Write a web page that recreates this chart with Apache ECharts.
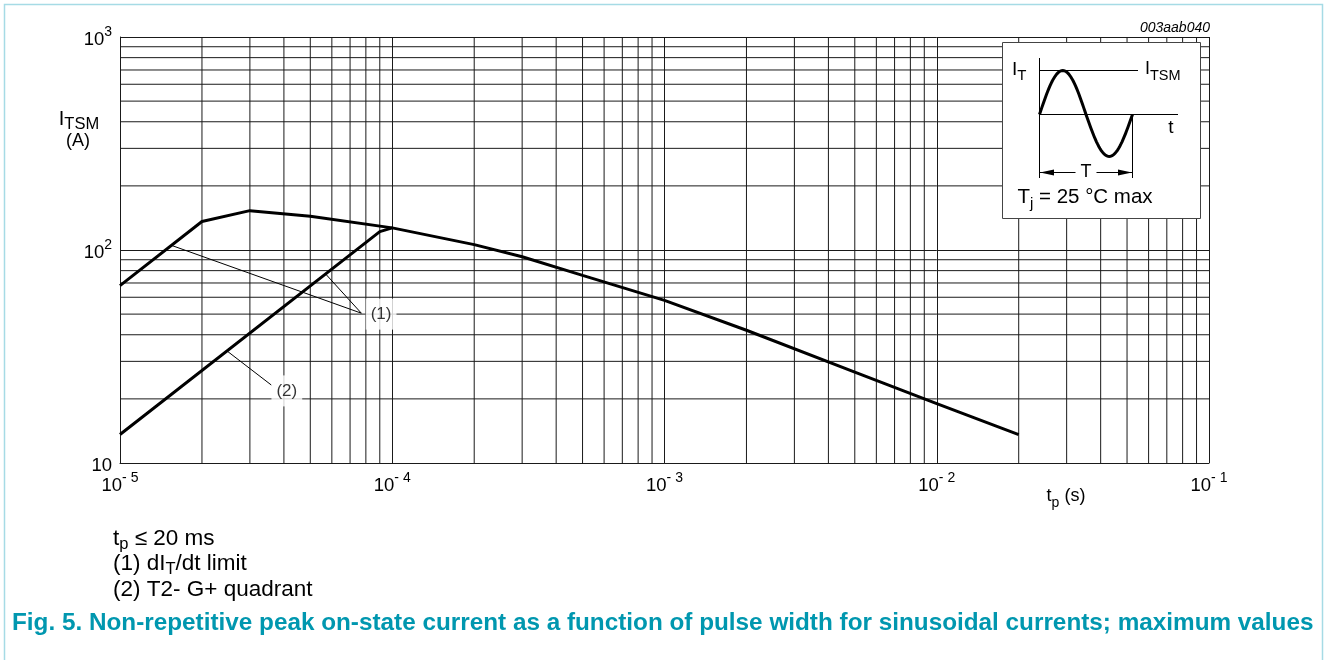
<!DOCTYPE html>
<html><head><meta charset="utf-8">
<script src="https://cdn.jsdelivr.net/npm/echarts@6/dist/echarts.min.js"></script>
<style>html,body{margin:0;padding:0;background:#fff}#c{width:1327px;height:660px}</style>
</head><body><div id="c"></div>
<script>
// ---- data ----
const xDecades = [1e-5, 1e-4, 1e-3, 1e-2];
const yDecades = [10, 100];
const minorMultipliers = [2, 3, 4, 5, 6, 7, 8, 9];
// curve (1): dIT/dt limit envelope + main curve
const curve1 = [[1e-5, 68], [2e-5, 136], [3e-5, 153], [5e-5, 144], [1e-4, 127], [2e-4, 106], [3e-4, 93], [5e-4, 76], [1e-3, 58], [2e-3, 42], [5e-3, 26.7], [1e-2, 19], [2e-2, 13.6]];
// curve (2): T2- G+ quadrant
const curve2 = [[1e-5, 13.6], [9e-5, 122], [1e-4, 127]];
// annotation leader lines
const leader1a = [[1.55e-5, 105], [7.7e-5, 50.5]];
const leader1b = [[5.7e-5, 77], [7.7e-5, 50.5]];
const leader2 = [[2.47e-5, 33.6], [3.6e-5, 23.2]];
const annotations = [{ value: [9.1e-5, 50], text: '(1)' }, { value: [4.1e-5, 21.8], text: '(2)' }];

const FONT = 'Liberation Sans, Arial, sans-serif';
const X_MIN = 1e-5, X_MAX = 1e-1, Y_MIN = 10, Y_MAX = 1000;
const xMinor = [], yMinor = [];
xDecades.forEach(d => minorMultipliers.forEach(m => xMinor.push(m * d)));
yDecades.forEach(d => minorMultipliers.forEach(m => yMinor.push(m * d)));
const gridData = [];
xMinor.forEach(v => { gridData.push([v, Y_MIN], [v, Y_MAX], [v, '-']); });
yMinor.forEach(v => { gridData.push([X_MIN, v], [X_MAX, v], [X_MIN, '-']); });

function expLabel(v) {
  const e = Math.round(Math.log10(v));
  if (e === 1) return '{b|10}';
  return '{b|10}{s|' + (e < 0 ? '- ' + (-e) : e) + '}';
}
const richSup = {
  b: { fontSize: 18.5, fontFamily: FONT, color: '#000', lineHeight: 24, verticalAlign: 'bottom' },
  s: { fontSize: 14, fontFamily: FONT, color: '#000', lineHeight: 24, verticalAlign: 'top' }
};
function subRich(main, sub, lh) {
  return {
    a: { fontSize: main, fontFamily: FONT, fill: '#000', lineHeight: lh, verticalAlign: 'top' },
    b: { fontSize: sub, fontFamily: FONT, fill: '#000', lineHeight: lh, verticalAlign: 'bottom' }
  };
}

const lineColor = '#1a1a1a';
const chart = echarts.init(document.getElementById('c'), null, { renderer: 'canvas' });

// inset sine illustration (schematic)
const sx0 = 1039.5, sx1 = 1132.5, sy0 = 114.5;
const sinePts = [];
for (let i = 0; i <= 80; i++) {
  const f = i / 80;
  const s = Math.sin(f * 2 * Math.PI);
  sinePts.push([sx0 + f * (sx1 - sx0), sy0 - s * (s > 0 ? 44 : 42)]);
}

const option = {
  animation: false,
  grid: { left: 120, top: 37, width: 1089, height: 426, containLabel: false },
  xAxis: {
    type: 'log', logBase: 10, min: X_MIN, max: X_MAX, interval: 1,
    axisLine: { show: true, lineStyle: { color: lineColor, width: 1 } },
    axisTick: { show: false },
    axisLabel: { formatter: expLabel, rich: richSup, margin: 8 },
    splitLine: { show: true, lineStyle: { color: lineColor, width: 1 } }
  },
  yAxis: {
    type: 'log', logBase: 10, min: Y_MIN, max: Y_MAX, interval: 1,
    axisLine: { show: true, lineStyle: { color: lineColor, width: 1 } },
    axisTick: { show: false },
    axisLabel: { formatter: expLabel, rich: richSup, margin: 8 },
    splitLine: { show: true, lineStyle: { color: lineColor, width: 1 } }
  },
  series: [
    { type: 'line', data: gridData, symbol: 'none', silent: true, connectNulls: false, lineStyle: { color: lineColor, width: 1 }, z: 1 },
    { type: 'line', data: leader1a, symbol: 'none', silent: true, lineStyle: { color: '#000', width: 1 }, z: 3 },
    { type: 'line', data: leader1b, symbol: 'none', silent: true, lineStyle: { color: '#000', width: 1 }, z: 3 },
    { type: 'line', data: leader2, symbol: 'none', silent: true, lineStyle: { color: '#000', width: 1 }, z: 3 },
    { type: 'line', data: curve1, symbol: 'none', silent: true, lineStyle: { color: '#000', width: 3 }, z: 5 },
    { type: 'line', data: curve2, symbol: 'none', silent: true, lineStyle: { color: '#000', width: 3 }, z: 5 },
    {
      type: 'scatter', data: annotations, symbolSize: 1, itemStyle: { color: 'rgba(0,0,0,0)' }, silent: true, z: 4,
      label: {
        show: true, position: 'inside', formatter: p => p.data.text,
        fontSize: 17, fontFamily: FONT, color: '#000', backgroundColor: '#fff', padding: [7, 5]
      }
    }
  ],
  graphic: [
    { type: 'rect', z: 100, silent: true, shape: { x: 4.5, y: 4.5, width: 1318, height: 700 }, style: { fill: 'none', stroke: '#a6dbe5', lineWidth: 1.5 } },
    { type: 'text', z: 100, x: 1210, y: 28, style: { text: '003aab040', font: 'italic 14px ' + FONT, fill: '#000', textAlign: 'right', textVerticalAlign: 'middle' } },
    // y axis name
    { type: 'text', z: 100, x: 79, y: 121, style: { text: '{a|I}{b|TSM}', textAlign: 'center', textVerticalAlign: 'middle', rich: subRich(20, 16.5, 24) } },
    { type: 'text', z: 100, x: 78, y: 141, style: { text: '(A)', font: '18px ' + FONT, fill: '#000', textAlign: 'center', textVerticalAlign: 'middle' } },
    // x axis name
    { type: 'text', z: 100, x: 1066, y: 499, style: { text: '{a|t}{b|p}{a| (s)}', textAlign: 'center', textVerticalAlign: 'middle', rich: subRich(18, 14, 23) } },
    // inset
    { type: 'rect', z: 100, silent: true, shape: { x: 1002.5, y: 42.5, width: 198, height: 176 }, style: { fill: '#fff', stroke: '#444', lineWidth: 1 } },
    { type: 'line', z: 101, shape: { x1: 1039.5, y1: 58, x2: 1039.5, y2: 178 }, style: { stroke: '#000', lineWidth: 1 } },
    { type: 'line', z: 101, shape: { x1: 1039, y1: 70.5, x2: 1138, y2: 70.5 }, style: { stroke: '#000', lineWidth: 1 } },
    { type: 'line', z: 101, shape: { x1: 1039, y1: 114.5, x2: 1178, y2: 114.5 }, style: { stroke: '#000', lineWidth: 1 } },
    { type: 'line', z: 101, shape: { x1: 1132.5, y1: 114, x2: 1132.5, y2: 178 }, style: { stroke: '#000', lineWidth: 1 } },
    { type: 'polyline', z: 102, shape: { points: sinePts }, style: { stroke: '#000', lineWidth: 3, fill: 'none' } },
    { type: 'line', z: 101, shape: { x1: 1040, y1: 172.5, x2: 1132, y2: 172.5 }, style: { stroke: '#000', lineWidth: 1 } },
    { type: 'polygon', z: 101, shape: { points: [[1040, 172.5], [1054, 169.5], [1054, 175.5]] }, style: { fill: '#000' } },
    { type: 'polygon', z: 101, shape: { points: [[1132, 172.5], [1118, 169.5], [1118, 175.5]] }, style: { fill: '#000' } },
    { type: 'text', z: 103, x: 1086, y: 172, style: { text: 'T', font: '18px ' + FONT, fill: '#000', textAlign: 'center', textVerticalAlign: 'middle', backgroundColor: '#fff', padding: [0, 5] } },
    { type: 'text', z: 103, x: 1012, y: 72, style: { text: '{a|I}{b|T}', textAlign: 'left', textVerticalAlign: 'middle', rich: subRich(19, 15, 23) } },
    { type: 'text', z: 103, x: 1145, y: 72, style: { text: '{a|I}{b|TSM}', textAlign: 'left', textVerticalAlign: 'middle', rich: subRich(18, 14.5, 23) } },
    { type: 'text', z: 103, x: 1171, y: 128, style: { text: 't', font: '19px ' + FONT, fill: '#000', textAlign: 'center', textVerticalAlign: 'middle' } },
    { type: 'text', z: 103, x: 1085, y: 199, style: { text: '{a|T}{b|j}{a| = 25 °C max}', textAlign: 'center', textVerticalAlign: 'middle', rich: subRich(20.5, 15, 24) } },
    // notes
    { type: 'text', z: 100, x: 113, y: 540, style: { text: '{a|t}{b|p}{a| ≤ 20 ms}', textAlign: 'left', textVerticalAlign: 'middle', rich: subRich(22.5, 16.5, 25) } },
    { type: 'text', z: 100, x: 113, y: 565, style: { text: '{a|(1) dI}{b|T}{a|/dt limit}', textAlign: 'left', textVerticalAlign: 'middle', rich: subRich(22.5, 16.5, 25) } },
    { type: 'text', z: 100, x: 113, y: 590, style: { text: '(2) T2- G+ quadrant', font: '22.5px ' + FONT, fill: '#000', textAlign: 'left', textVerticalAlign: 'middle' } },
    { type: 'text', z: 100, x: 12, y: 623, style: { text: 'Fig. 5. Non-repetitive peak on-state current as a function of pulse width for sinusoidal currents; maximum values', font: 'bold 24.3px ' + FONT, fill: '#0097AF', textAlign: 'left', textVerticalAlign: 'middle' } }
  ]
};
chart.setOption(option);
</script>
</body></html>
